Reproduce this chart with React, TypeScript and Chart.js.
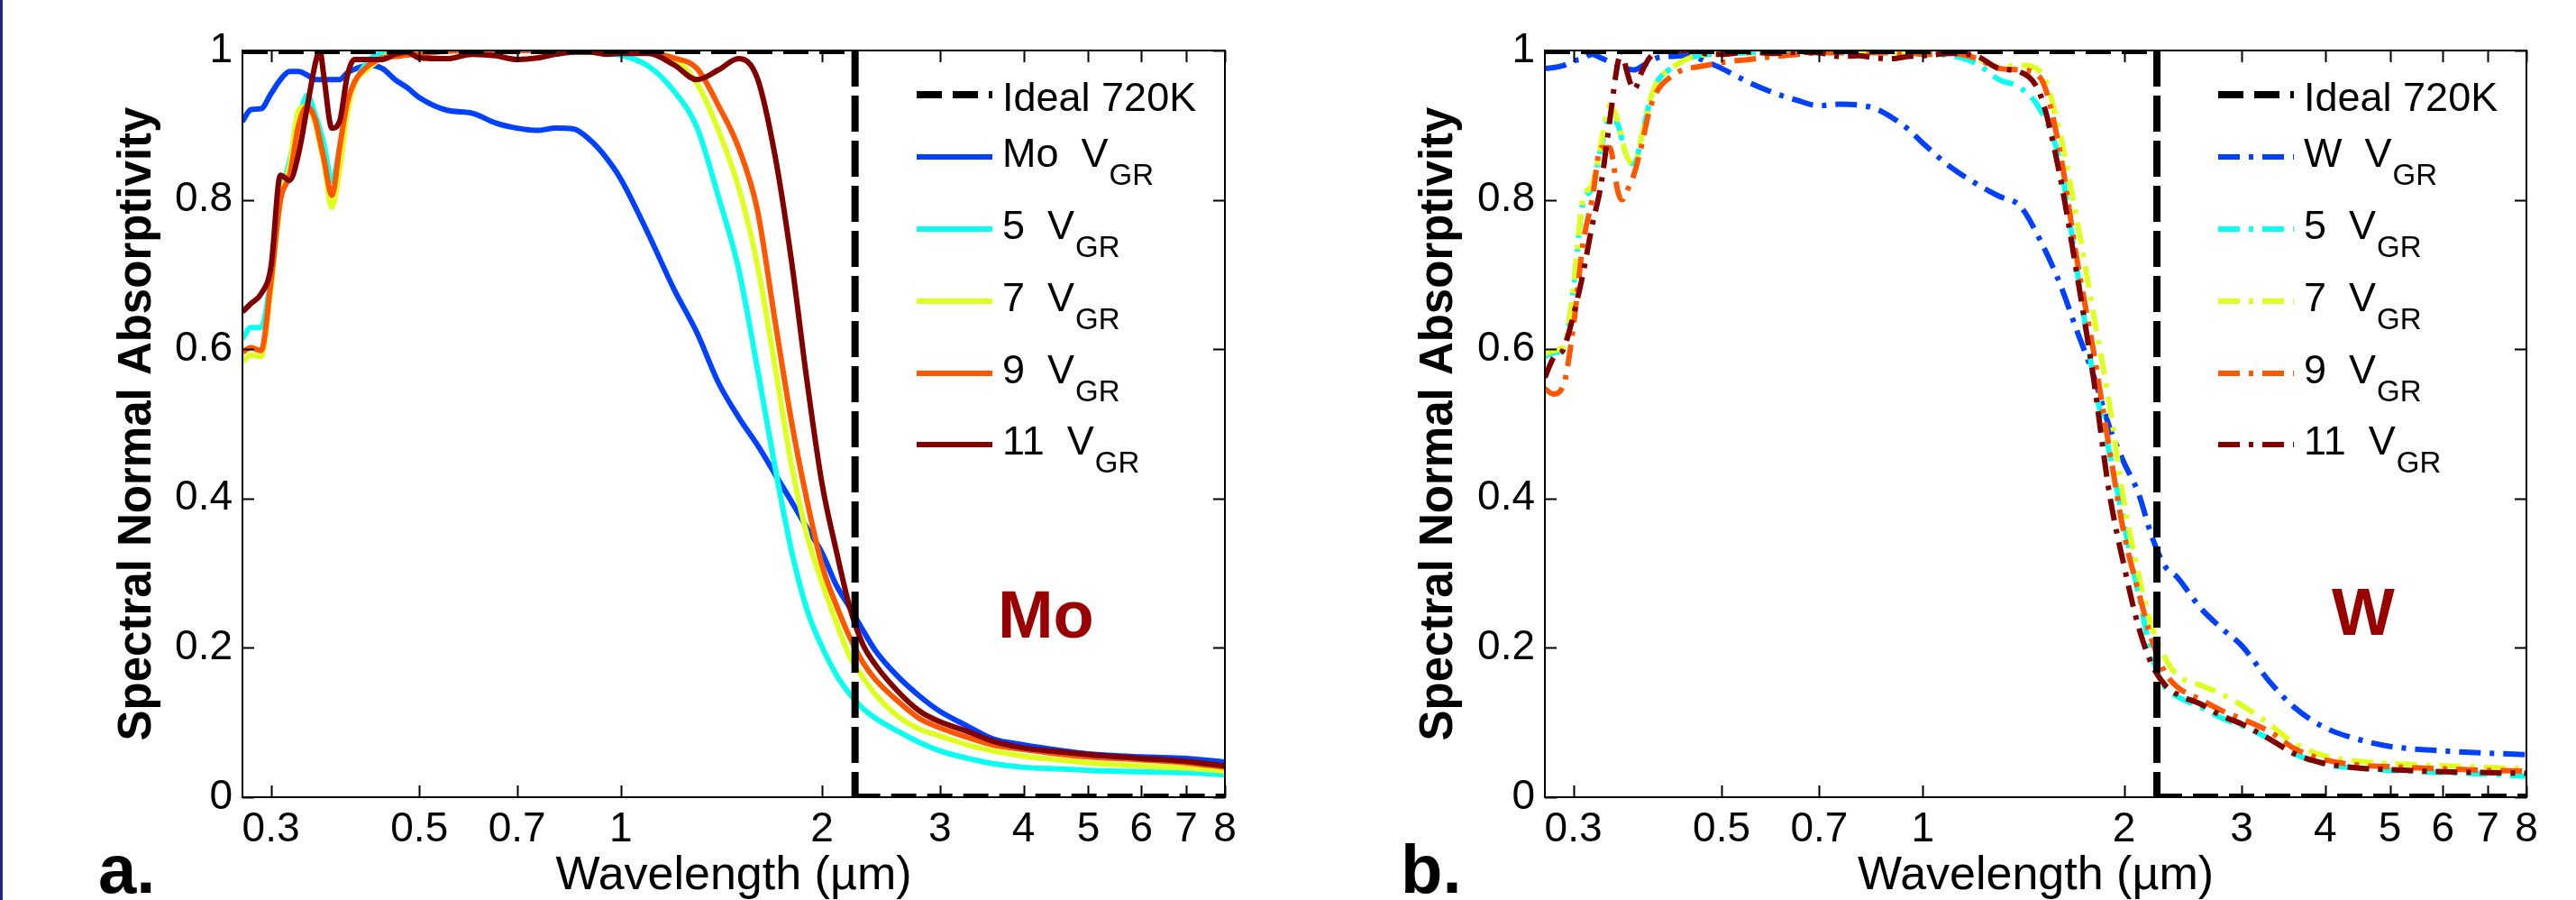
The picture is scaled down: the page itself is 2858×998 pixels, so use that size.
import React, { useEffect, useRef } from 'react';
import { Chart, registerables } from 'chart.js';

Chart.register(...registerables);

const FONT = '"Liberation Sans", Arial, Helvetica, sans-serif';

// ---------- data ----------
const wavelengths = [
  0.272, 0.28, 0.29, 0.30, 0.31, 0.32, 0.33, 0.34, 0.35, 0.355,
  0.36, 0.37, 0.38, 0.39, 0.40, 0.42, 0.44, 0.46, 0.48, 0.50,
  0.55, 0.60, 0.65, 0.70, 0.75, 0.80, 0.85, 0.90, 0.95, 1.0,
  1.1, 1.2, 1.3, 1.4, 1.5, 1.6, 1.7, 1.8, 1.9, 2.0,
  2.1, 2.2, 2.3, 2.4, 2.6, 2.8, 3.0, 3.3, 3.6, 4.0,
  4.5, 5.0, 6.0, 7.0, 8.0,
];

const moBare = [
  0.905, 0.921, 0.922, 0.942, 0.961, 0.972, 0.972, 0.967, 0.961, 0.961,
  0.961, 0.961, 0.961, 0.970, 0.975, 0.980, 0.976, 0.961, 0.950, 0.937,
  0.920, 0.916, 0.903, 0.896, 0.893, 0.896, 0.895, 0.880, 0.857, 0.828,
  0.754, 0.681, 0.622, 0.555, 0.509, 0.472, 0.433, 0.396, 0.360, 0.327,
  0.284, 0.254, 0.224, 0.197, 0.161, 0.135, 0.115, 0.095, 0.078, 0.070,
  0.063, 0.058, 0.054, 0.052, 0.047,
];
const mo5 = [
  0.614, 0.629, 0.629, 0.696, 0.800, 0.852, 0.905, 0.940, 0.912, 0.895,
  0.875, 0.825, 0.870, 0.925, 0.955, 0.987, 0.997, 1.0, 1.0, 1.0,
  1.0, 1.0, 1.0, 1.0, 1.0, 1.0, 0.999, 0.998, 0.996, 0.994,
  0.979, 0.946, 0.897, 0.804, 0.708, 0.575, 0.443, 0.330, 0.250, 0.201,
  0.164, 0.138, 0.119, 0.106, 0.088, 0.073, 0.062, 0.052, 0.045, 0.040,
  0.038, 0.036, 0.034, 0.033, 0.030,
];
const mo7 = [
  0.583, 0.592, 0.590, 0.680, 0.800, 0.845, 0.920, 0.925, 0.900, 0.875,
  0.850, 0.790, 0.840, 0.915, 0.955, 0.976, 0.990, 0.998, 1.0, 1.0,
  1.0, 1.0, 1.0, 1.0, 1.0, 1.0, 1.0, 1.0, 1.0, 1.0,
  0.997, 0.989, 0.956, 0.893, 0.817, 0.714, 0.578, 0.445, 0.350, 0.287,
  0.234, 0.188, 0.161, 0.138, 0.108, 0.091, 0.082, 0.070, 0.062, 0.055,
  0.050, 0.046, 0.042, 0.039, 0.035,
];
const mo9 = [
  0.596, 0.602, 0.598, 0.690, 0.800, 0.833, 0.900, 0.925, 0.905, 0.880,
  0.855, 0.806, 0.870, 0.930, 0.958, 0.980, 0.990, 0.992, 0.994, 0.995,
  0.999, 1.0, 1.0, 1.0, 1.0, 1.0, 1.0, 1.0, 1.0, 1.0,
  0.998, 0.990, 0.976, 0.926, 0.870, 0.787, 0.639, 0.503, 0.396, 0.310,
  0.257, 0.214, 0.181, 0.158, 0.128, 0.105, 0.093, 0.080, 0.070, 0.064,
  0.058, 0.054, 0.050, 0.046, 0.040,
];
const mo11 = [
  0.650, 0.661, 0.674, 0.710, 0.833, 0.826, 0.862, 0.925, 0.985, 1.0,
  0.965, 0.896, 0.905, 0.965, 0.988, 0.988, 0.988, 0.995, 0.998, 0.990,
  0.989, 0.995, 0.993, 0.988, 0.990, 0.995, 0.998, 0.998, 0.995, 0.996,
  0.996, 0.981, 0.961, 0.974, 0.989, 0.963, 0.860, 0.718, 0.555, 0.419,
  0.330, 0.254, 0.205, 0.178, 0.141, 0.115, 0.101, 0.088, 0.075, 0.066,
  0.061, 0.057, 0.052, 0.048, 0.042,
];

const wBare = [
  0.976, 0.977, 0.980, 0.986, 0.989, 0.995, 0.990, 0.985, 0.980, 0.978,
  0.976, 0.974, 0.979, 0.985, 0.990, 0.992, 0.993, 0.990, 0.983, 0.976,
  0.957, 0.943, 0.933, 0.926, 0.928, 0.927, 0.922, 0.910, 0.895, 0.876,
  0.844, 0.822, 0.805, 0.791, 0.745, 0.690, 0.625, 0.565, 0.497, 0.448,
  0.408, 0.350, 0.310, 0.295, 0.254, 0.226, 0.203, 0.155, 0.120, 0.093,
  0.077, 0.068, 0.062, 0.059, 0.057,
];
const w5 = [
  0.590, 0.595, 0.600, 0.680, 0.795, 0.815, 0.870, 0.910, 0.900, 0.880,
  0.860, 0.848, 0.886, 0.930, 0.957, 0.976, 0.987, 0.993, 0.995, 0.996,
  0.997, 0.998, 0.998, 0.998, 0.998, 0.998, 0.998, 0.998, 0.997, 0.995,
  0.993, 0.983, 0.961, 0.950, 0.920, 0.854, 0.708, 0.562, 0.463, 0.366,
  0.274, 0.190, 0.148, 0.135, 0.121, 0.106, 0.096, 0.078, 0.058, 0.044,
  0.039, 0.036, 0.033, 0.031, 0.028,
];
const w7 = [
  0.594, 0.598, 0.603, 0.680, 0.800, 0.820, 0.875, 0.926, 0.905, 0.880,
  0.860, 0.848, 0.886, 0.930, 0.957, 0.976, 0.987, 0.993, 0.995, 0.996,
  0.997, 0.998, 0.998, 0.998, 0.998, 0.998, 0.998, 0.998, 0.997, 0.995,
  0.997, 0.990, 0.978, 0.980, 0.972, 0.893, 0.774, 0.648, 0.529, 0.396,
  0.300, 0.230, 0.188, 0.164, 0.150, 0.138, 0.123, 0.098, 0.072, 0.055,
  0.048, 0.045, 0.042, 0.040, 0.038,
];
const w9 = [
  0.547, 0.540, 0.552, 0.630, 0.740, 0.800, 0.870, 0.870, 0.810, 0.800,
  0.810, 0.835, 0.875, 0.920, 0.945, 0.965, 0.975, 0.978, 0.981, 0.984,
  0.988, 0.992, 0.995, 0.997, 0.997, 0.997, 0.997, 0.997, 0.997, 0.995,
  0.996, 0.990, 0.976, 0.974, 0.963, 0.870, 0.721, 0.598, 0.469, 0.353,
  0.277, 0.211, 0.168, 0.148, 0.131, 0.116, 0.105, 0.088, 0.065, 0.050,
  0.043, 0.041, 0.038, 0.036, 0.035,
];
const w11 = [
  0.562, 0.588, 0.600, 0.645, 0.700, 0.765, 0.820, 0.905, 0.985, 1.0,
  0.975, 0.948, 0.972, 0.990, 0.998, 1.0, 1.0, 0.998, 0.995, 0.995,
  0.998, 0.996, 0.998, 0.997, 0.992, 0.993, 0.990, 0.989, 0.992, 0.993,
  0.996, 0.993, 0.976, 0.971, 0.940, 0.837, 0.701, 0.562, 0.409, 0.310,
  0.230, 0.178, 0.151, 0.138, 0.125, 0.109, 0.098, 0.078, 0.058, 0.045,
  0.039, 0.037, 0.034, 0.033, 0.032,
];

const idealX = [0.272, 2.24, 2.24, 8];
const idealY = [1, 1, 0, 0];

const xTicks = [0.3, 0.5, 0.7, 1, 2, 3, 4, 5, 6, 7, 8];
const xTickLabels = ['0.3', '0.5', '0.7', '1', '2', '3', '4', '5', '6', '7', '8'];
const yTicks = [0, 0.2, 0.4, 0.6, 0.8, 1];
const yTickLabels = ['0', '0.2', '0.4', '0.6', '0.8', '1'];

const moLegend = ['Ideal 720K', 'Mo  V_GR', '5  V_GR', '7  V_GR', '9  V_GR', '11  V_GR'];
const wLegend = ['Ideal 720K', 'W  V_GR', '5  V_GR', '7  V_GR', '9  V_GR', '11  V_GR'];

const seriesColors = ['#0040FF', '#0AFFF0', '#DFFF20', '#FF5600', '#800000'];

// ---------- styling / layout ----------
const X_MIN = 0.272;
const X_MAX = 8;
const CANVAS_H = 998;
const PLOT_TOP = 56;
const PLOT_BOTTOM = 884;
const LEGEND_ROWS = [49, 118, 198, 278, 358, 437];
const IDEAL_DASH = [28, 12];
const IDEAL_DASH_VERTICAL = [40, 10];

type Panel = {
  series: number[][];
  legend: string[];
  dash: number[];
  material: string;
  matX: number;
  matY: number;
  letter: string;
  canvasLeft: number;
  width: number;
  plotLeft: number;
  plotRight: number;
  yTitlePad: number;
};

const panels: Panel[] = [
  {
    series: [moBare, mo5, mo7, mo9, mo11],
    legend: moLegend,
    dash: [],
    material: 'Mo',
    matX: 4.32,
    matY: 0.214,
    letter: 'a.',
    canvasLeft: 0,
    width: 1430,
    plotLeft: 269,
    plotRight: 1359,
    yTitlePad: 127,
  },
  {
    series: [wBare, w5, w7, w9, w11],
    legend: wLegend,
    dash: [24, 10, 5, 10],
    material: 'W',
    matX: 4.56,
    matY: 0.217,
    letter: 'b.',
    canvasLeft: 1430,
    width: 1428,
    plotLeft: 284,
    plotRight: 1373,
    yTitlePad: 141,
  },
];

const framePlugin = {
  id: 'matlabFrame',
  afterDatasetsDraw(chart: any) {
    const { ctx, chartArea: a, scales } = chart;
    const x = scales.x;
    const y = scales.y;
    ctx.save();
    ctx.strokeStyle = '#000';
    ctx.lineWidth = 2;
    ctx.strokeRect(a.left, a.top, a.right - a.left, a.bottom - a.top);
    ctx.beginPath();
    const tl = 13;
    for (const v of xTicks) {
      const px = Math.round(x.getPixelForValue(v)) + 0.5;
      ctx.moveTo(px, a.bottom);
      ctx.lineTo(px, a.bottom - tl);
      ctx.moveTo(px, a.top);
      ctx.lineTo(px, a.top + tl);
    }
    for (const v of yTicks) {
      const py = Math.round(y.getPixelForValue(v)) + 0.5;
      ctx.moveTo(a.left, py);
      ctx.lineTo(a.left + tl, py);
      ctx.moveTo(a.right, py);
      ctx.lineTo(a.right - tl, py);
    }
    ctx.stroke();
    ctx.restore();
  },
};

const legendPlugin = {
  id: 'subscriptLegend',
  afterDraw(chart: any) {
    const { ctx, chartArea: a } = chart;
    chart.data.datasets.forEach((d: any, i: number) => {
      const ly = a.top + LEGEND_ROWS[i];
      ctx.save();
      ctx.strokeStyle = d.borderColor;
      ctx.lineWidth = d.borderWidth;
      ctx.lineCap = 'butt';
      ctx.setLineDash(d.borderDash || []);
      ctx.beginPath();
      ctx.moveTo(a.right - 342, ly);
      ctx.lineTo(a.right - 258, ly);
      ctx.stroke();
      ctx.setLineDash([]);
      const parts = String(d.label).split('_');
      const main = parts[0];
      const sub = parts[1];
      ctx.fillStyle = '#000';
      ctx.textAlign = 'left';
      ctx.textBaseline = 'alphabetic';
      ctx.font = `45px ${FONT}`;
      const tx = a.right - 247;
      const base = sub ? ly + 11 : ly + 18;
      ctx.fillText(main, tx, base);
      if (sub) {
        const w = ctx.measureText(main).width;
        ctx.font = `33px ${FONT}`;
        ctx.fillText(sub, tx + w + 1, base + 20);
      }
      ctx.restore();
    });
  },
};

const labelPlugin = {
  id: 'panelLabels',
  afterDraw(chart: any, _args: any, opts: any) {
    const { ctx, chartArea: a, scales } = chart;
    ctx.save();
    ctx.fillStyle = '#990000';
    ctx.font = `bold 74px ${FONT}`;
    ctx.textAlign = 'center';
    ctx.textBaseline = 'alphabetic';
    ctx.fillText(opts.material, scales.x.getPixelForValue(opts.matX), scales.y.getPixelForValue(opts.matY));
    ctx.fillStyle = '#000';
    ctx.font = `bold 76px ${FONT}`;
    ctx.textAlign = 'left';
    ctx.fillText(opts.letter, a.left - 160, 990);
    ctx.restore();
  },
};

function buildConfig(p: Panel): any {
  const datasets: any[] = [
    {
      label: p.legend[0],
      data: idealX.map((x, i) => ({ x, y: idealY[i] })),
      borderColor: '#000000',
      borderWidth: 8,
      borderDash: IDEAL_DASH,
      borderCapStyle: 'butt',
      pointRadius: 0,
      tension: 0,
      order: 0,
      segment: {
        borderDash: (c: any) => (c.p0DataIndex === 1 ? IDEAL_DASH_VERTICAL : IDEAL_DASH),
      },
    },
    ...p.series.map((s, i) => ({
      label: p.legend[i + 1],
      data: wavelengths.map((x, j) => ({ x, y: s[j] })),
      borderColor: seriesColors[i],
      borderWidth: 6,
      borderDash: p.dash,
      borderCapStyle: 'butt',
      borderJoinStyle: 'round',
      pointRadius: 0,
      cubicInterpolationMode: 'monotone',
      order: 5 - i,
    })),
  ];

  return {
    type: 'line',
    data: { datasets },
    plugins: [framePlugin, legendPlugin, labelPlugin],
    options: {
      responsive: false,
      maintainAspectRatio: false,
      animation: false,
      devicePixelRatio: 1,
      parsing: false,
      normalized: true,
      events: [],
      layout: {
        padding: { left: 0, top: PLOT_TOP, right: p.width - p.plotRight, bottom: 0 },
      },
      plugins: {
        legend: { display: false },
        tooltip: { enabled: false },
        title: { display: false },
        panelLabels: { material: p.material, matX: p.matX, matY: p.matY, letter: p.letter },
      },
      scales: {
        x: {
          type: 'logarithmic',
          position: 'bottom',
          min: X_MIN,
          max: X_MAX,
          bounds: 'data',
          afterBuildTicks: (s: any) => {
            s.ticks = xTicks.map((v) => ({ value: v }));
          },
          afterFit: (s: any) => {
            s.height = CANVAS_H - PLOT_BOTTOM;
            s.paddingLeft = 0;
            s.paddingRight = 0;
          },
          grid: { display: false, drawTicks: false },
          border: { display: false },
          ticks: {
            autoSkip: false,
            maxRotation: 0,
            minRotation: 0,
            padding: 9,
            color: '#000',
            font: { family: FONT, size: 46 },
            callback: (v: number) => {
              const k = xTicks.findIndex((t) => Math.abs(t - v) < 1e-9);
              return k >= 0 ? xTickLabels[k] : '';
            },
          },
          title: {
            display: true,
            text: 'Wavelength (\u00b5m)',
            color: '#000',
            font: { family: FONT, size: 52, lineHeight: 1 },
            padding: 0,
          },
        },
        y: {
          type: 'linear',
          position: 'left',
          min: 0,
          max: 1,
          afterBuildTicks: (s: any) => {
            s.ticks = yTicks.map((v) => ({ value: v }));
          },
          afterFit: (s: any) => {
            s.width = p.plotLeft;
            s.paddingTop = 0;
            s.paddingBottom = 0;
          },
          grid: { display: false, drawTicks: false },
          border: { display: false },
          ticks: {
            padding: 11,
            color: '#000',
            font: { family: FONT, size: 46 },
            callback: (v: number) => {
              const k = yTicks.findIndex((t) => Math.abs(t - v) < 1e-9);
              return k >= 0 ? yTickLabels[k] : '';
            },
          },
          title: {
            display: true,
            text: 'Spectral Normal Absorptivity',
            color: '#000',
            font: { family: FONT, size: 51, weight: 'bold', lineHeight: 1 },
            padding: { top: p.yTitlePad, bottom: 0 },
          },
        },
      },
    },
  };
}

function PanelChart({ panel }: { panel: Panel }) {
  const ref = useRef<HTMLCanvasElement | null>(null);
  useEffect(() => {
    if (!ref.current) return;
    const chart = new Chart(ref.current, buildConfig(panel));
    return () => chart.destroy();
  }, [panel]);
  return (
    <canvas
      ref={ref}
      width={panel.width}
      height={CANVAS_H}
      style={{
        position: 'absolute',
        left: panel.canvasLeft,
        top: 0,
        width: panel.width,
        height: CANVAS_H,
        display: 'block',
      }}
    />
  );
}

export default function App() {
  return (
    <div
      style={{
        position: 'absolute',
        left: 0,
        top: 0,
        width: 2858,
        height: CANVAS_H,
        background: '#ffffff',
        overflow: 'hidden',
      }}
    >
      {panels.map((p, i) => (
        <PanelChart key={i} panel={p} />
      ))}
      <div
        style={{
          position: 'absolute',
          left: 0,
          top: 0,
          width: 3,
          height: CANVAS_H,
          background: '#1B2A84',
        }}
      />
    </div>
  );
}
